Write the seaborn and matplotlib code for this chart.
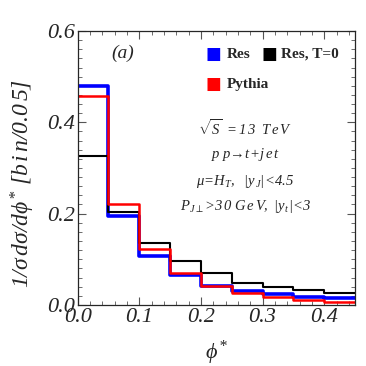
import matplotlib
matplotlib.use("Agg")
import matplotlib.pyplot as plt
from matplotlib.ticker import MultipleLocator
import seaborn as sns
import pandas as pd

# bin edges in phi*, width 0.05
edges = [0.0, 0.05, 0.10, 0.15, 0.20, 0.25, 0.30, 0.35, 0.40, 0.45]
res = [0.480, 0.194, 0.108, 0.066, 0.042, 0.031, 0.0235, 0.018, 0.014]
res_t0 = [0.326, 0.2035, 0.136, 0.0955, 0.069, 0.049, 0.040, 0.032, 0.025]
pythia = [0.458, 0.222, 0.123, 0.070, 0.042, 0.027, 0.018, 0.010, 0.007]

sns.set_theme(style="ticks")
plt.rcParams['font.family'] = ['Liberation Serif', 'DejaVu Serif']
plt.rcParams['mathtext.fontset'] = 'custom'
plt.rcParams['mathtext.rm'] = 'Liberation Serif:italic'
plt.rcParams['mathtext.it'] = 'Liberation Serif:italic'
plt.rcParams['mathtext.bf'] = 'Liberation Serif:bold'

fig = plt.figure(figsize=(3.66, 3.66), dpi=100)
ax = fig.add_axes([0.212, 0.167, 0.758, 0.748])

def step_df(vals):
    return pd.DataFrame({'x': edges, 'y': vals + [vals[-1]]})

sns.lineplot(data=step_df(res), x='x', y='y', drawstyle='steps-post',
             color='#0000ff', linewidth=2.6, ax=ax)
sns.lineplot(data=step_df(res_t0), x='x', y='y', drawstyle='steps-post',
             color='black', linewidth=1.5, ax=ax)
sns.lineplot(data=step_df(pythia), x='x', y='y', drawstyle='steps-post',
             color='#ff0000', linewidth=1.8, ax=ax)

ax.set_xlim(0, 0.45)
ax.set_ylim(0, 0.6)
ax.xaxis.set_major_locator(MultipleLocator(0.1))
ax.xaxis.set_minor_locator(MultipleLocator(0.02))
ax.yaxis.set_major_locator(MultipleLocator(0.2))
ax.yaxis.set_minor_locator(MultipleLocator(0.02))
ax.xaxis.set_major_formatter(plt.FuncFormatter(lambda v, p: f"{v:.1f}"))
ax.yaxis.set_major_formatter(plt.FuncFormatter(lambda v, p: f"{v:.1f}"))
ax.tick_params(which='both', direction='in', top=True, right=True, color='#555555')
ax.tick_params(which='major', length=6, width=0.8, labelsize=16, pad=2)
ax.tick_params(which='minor', length=3, width=0.6)
for lab in ax.get_xticklabels() + ax.get_yticklabels():
    lab.set_fontstyle('italic')
for sp in ax.spines.values():
    sp.set_linewidth(0.9)

ax.set_xlabel(r"$\phi^{*}$", fontsize=16, labelpad=9)
ax.set_ylabel(r"$1/\sigma\,d\sigma/d\phi^{*}\ [b\,i\,n/0.0\,5]$", fontsize=17, labelpad=0)
ax.yaxis.set_label_coords(-0.148, 0.445)

ax.text(0.12, 0.95, "(a)", transform=ax.transAxes, fontsize=14,
        style='italic', va='top')

# legend squares and labels
sq = dict(transform=ax.transAxes, fontsize=12, va='center', family='DejaVu Sans')
lt = dict(transform=ax.transAxes, fontsize=11, fontweight='bold', va='center')
ax.text(0.46, 0.916, u"\u25A0", color='#0000ff', **sq)
ax.text(0.539, 0.916, "Res", **lt)
ax.text(0.663, 0.916, u"\u25A0", color='black', **sq)
ax.text(0.732, 0.916, "Res, T=0", **lt)
ax.text(0.46, 0.806, u"\u25A0", color='#ff0000', **sq)
ax.text(0.539, 0.806, "Pythia", **lt)

at = dict(transform=ax.transAxes, fontsize=10.5, ha='center', va='center')
cx = 0.605
ax.text(cx, 0.645, r"$\sqrt{S}\ =1\,3\ \ T\,e\,V$", **at)
ax.text(cx, 0.548, r"$p\;p\!\rightarrow\!t\!+\!j\,e\,t$", **at)
ax.text(cx, 0.452, r"$\mu\!=\!H_T,\ \ |y_{\,J}|\!<\!4.5$", **at)
ax.text(cx, 0.36, r"$P_{J\perp}\!>\!3\,0\ G\,e\,V,\ |y_{\,t}|\!<\!3$", **at)

fig.savefig("out.png", dpi=100)
plt.close(fig)
